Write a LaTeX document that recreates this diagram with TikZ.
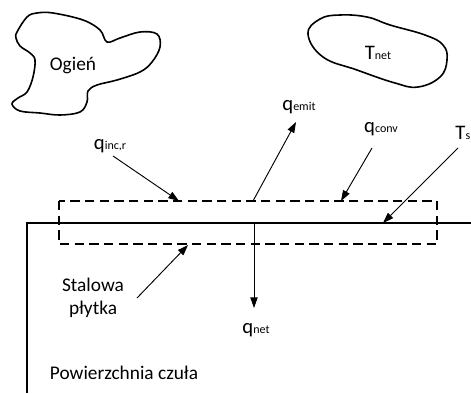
\documentclass[tikz,border=0pt]{standalone}
\usepackage{fontspec}
\setmainfont{Carlito}
\usetikzlibrary{arrows.meta, positioning}
\newcommand{\qsub}[2]{#1{\fontsize{9}{9}\selectfont #2}}
\tikzset{
  flux/.style={-{Triangle[length=8pt, width=5.5pt]}, line width=0.7pt},
  blob/.style={line width=1.2pt},
  wall/.style={line width=0.8pt},
  box/.style={line width=0.8pt, dash pattern=on 7pt off 4pt},
  lbl/.style={font=\fontsize{14.5}{17.5}\selectfont, inner sep=0pt, align=center},
  qlbl/.style={font=\fontsize{15.5}{17}\selectfont, inner sep=0pt}
}

\begin{document}
\begin{tikzpicture}[x=0.75pt, y=-0.75pt]
    \useasboundingbox (0,0) rectangle (471,393);

    % Fire and surroundings
    \draw[blob] plot[smooth cycle, tension=0.6] coordinates {
        (17,32) (27,17) (37,13) (53,13) (83,20) (100,30) (107,42) (120,38)
        (140,32) (157,34) (160,47) (152,62) (140,72) (117,80) (97,85) (88,91)
        (87,102) (80,112) (60,115) (40,113) (20,111) (12,104) (18,98) (27,92)
        (33,77) (35,60) (30,53) (20,46) (16,38)};
    \node[lbl] (fire) at (73,66) {Ogień};
    \draw[blob] plot[smooth cycle, tension=0.7] coordinates {
        (308,34) (320,19) (340,15) (367,17) (390,25) (425,35) (443,45)
        (447,60) (440,77) (418,87) (395,83) (357,70) (323,57)};
    \node[qlbl] (tnet) at (378,53) {\qsub{T}{net}};

    % Sensitive surface
    \coordinate (sw) at (27,393);
    \coordinate (nw) at (27,223);
    \coordinate (ne) at (471,223);
    \draw[wall] (sw) -- (nw) -- (ne);
    \draw[box] (59,201) rectangle (437,244);

    % Fluxes
    \coordinate (emit0) at (253,201);
    \coordinate (emit1) at (296,122);
    \draw[flux] (emit0) -- (emit1);
    \node[qlbl] (qemit) at (299,107) {\qsub{q}{emit}};

    \coordinate (inc0) at (113,156);
    \coordinate (inc1) at (179,201);
    \draw[flux] (inc0) -- (inc1);
    \node[qlbl] (qinc) at (110,146) {\qsub{q}{inc,r}};

    \coordinate (conv0) at (372,148);
    \coordinate (conv1) at (341,201);
    \draw[flux] (conv0) -- (conv1);
    \node[qlbl] (qconv) at (381,129) {\qsub{q}{conv}};

    \coordinate (ts0) at (458,148);
    \coordinate (ts1) at (383,223);
    \draw[flux] (ts0) -- (ts1);
    \node[qlbl, anchor=east] (ts) at (470.5,133) {\qsub{T}{s}};

    \coordinate (net0) at (254,223);
    \coordinate (net1) at (254,308);
    \draw[flux] (net0) -- (net1);
    \node[qlbl] (qnet) at (256,330) {\qsub{q}{net}};

    % Plate
    \coordinate (plate0) at (137,298);
    \coordinate (plate1) at (188,245);
    \draw[flux] (plate0) -- (plate1);
    \node[lbl] (plate) at (93,298) {Stalowa\\płytka};

    \node[lbl] (surface) at (124,373) {Powierzchnia czuła};
\end{tikzpicture}
\end{document}
